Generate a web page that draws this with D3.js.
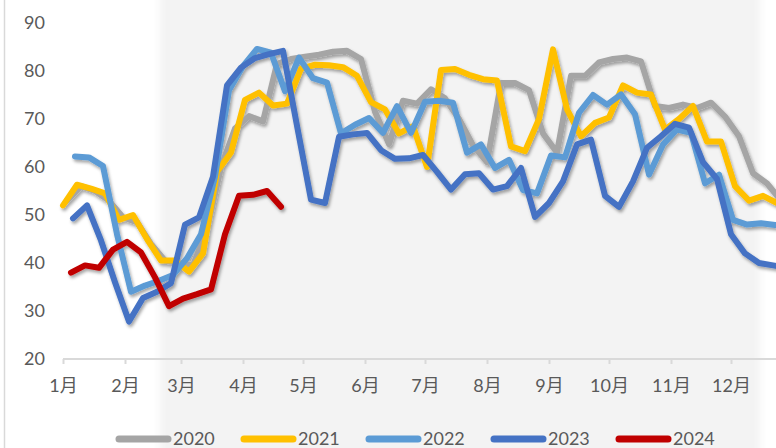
<!DOCTYPE html>
<html>
<head>
<meta charset="utf-8">
<script src="https://cdn.jsdelivr.net/npm/d3@7"></script>
<style>
  html, body { margin: 0; padding: 0; background: #fff; }
  svg { display: block; font-family: Lato, "Noto Sans CJK SC", sans-serif; }
</style>
</head>
<body>
<svg width="776" height="448"></svg>
<script>
// weekly values, one per Friday, Jan -> Dec
var years = ["2020", "2021", "2022", "2023", "2024"];
var firstDay = [3, 1, 7, 6, 5]; // day of January of the first weekly reading

var values2020 = [53, 56, 55, 53, 49.5, 48.5, 44, 40.5, 40, 39.5, 47, 60, 68, 70.6, 69.5, 81.5, 82.5, 83, 83.4, 84,
  84.2, 82.5, 71.5, 64.8, 73.8, 73.2, 76.2, 74.3, 70, 64.5, 61, 77.5, 77.5, 76, 67, 63, 79, 79, 81.8, 82.5,
  82.8, 82, 72.7, 72.3, 73, 72.3, 73.4, 70.5, 66.4, 58.7, 56.6, 53];
var values2021 = [52, 56.3, 55.5, 54.5, 49, 50, 45, 40.5, 40.5, 38.2, 42, 59, 63, 74, 75.5, 72.8, 73.2, 80.5, 81.3, 81.2,
  80.8, 79, 73.5, 72, 67, 68.5, 60, 80.2, 80.4, 79.2, 78.3, 78, 64.3, 63.3, 70, 84.5, 72, 66.4, 69.2, 70.3,
  77, 75.5, 75.1, 67.8, 70, 72.7, 65.3, 65.3, 56, 53, 54, 52.5];
var values2022 = [62.2, 62, 60.2, 46, 34, 35.3, 36.3, 37.5, 41, 46, 58, 76, 81, 84.6, 83.8, 75.8, 82.8, 78.5, 77.6, 67,
  68.8, 70.2, 67.1, 72.7, 67.1, 73.6, 73.8, 73.4, 63, 64.7, 59.8, 61.5, 55.2, 54.5, 62.4, 62, 71.3, 75, 73, 75.1,
  71, 58.4, 64.7, 67.8, 67.1, 56.6, 58.4, 49, 48, 48.3, 47.9, 47.5];
var values2023 = [49.3, 52, 44.7, 36, 27.8, 32.7, 34, 35.8, 48, 49.5, 58, 77, 80.7, 82.7, 83.5, 84.2, 68.6, 53.2, 52.5, 66.3,
  66.8, 67.1, 63.5, 61.7, 61.8, 62.5, 59, 55.3, 58.5, 58.7, 55.3, 56, 59.8, 49.6, 52.5, 57, 64.7, 65.7, 54, 51.7,
  57, 64, 66.4, 69, 68.2, 61, 57.5, 46, 42, 40, 39.5, 39];
var values2024 = [38, 39.5, 39, 42.8, 44.4, 42.2, 37, 31, 32.6, 33.5, 34.5, 46, 54, 54.2, 55, 51.7];

var monthLabels = ["1月", "2月", "3月", "4月", "5月", "6月", "7月", "8月", "9月", "10月", "11月", "12月"];
var yTicks = [20, 30, 40, 50, 60, 70, 80, 90];
var colors = ["#a5a5a5", "#ffc000", "#5b9bd5", "#4472c4", "#c00000"];

var allValues = [values2020, values2021, values2022, values2023, values2024];

var svg = d3.select("svg"),
  width = +svg.attr("width"),
  height = +svg.attr("height");

var x = d3.scaleTime()
  .domain([new Date(2021, 0, 1), new Date(2022, 0, 1)])
  .range([63, 793]);

var y = d3.scaleLinear()
  .domain([20, 90])
  .range([359, 23]);

var defs = svg.append("defs");
defs.append("filter")
  .attr("id", "shadow")
  .attr("x", "-10%").attr("y", "-10%")
  .attr("width", "120%").attr("height", "130%")
  .append("feDropShadow")
  .attr("dx", 1.5)
  .attr("dy", 2.5)
  .attr("stdDeviation", 1.6)
  .attr("flood-color", "#000")
  .attr("flood-opacity", 0.35);

defs.append("filter")
  .attr("id", "soft")
  .append("feGaussianBlur")
  .attr("stdDeviation", 4);

// background: faint watermark panel and frame line
svg.append("rect")
  .attr("x", 160).attr("y", -20)
  .attr("width", 600).attr("height", height + 40)
  .attr("rx", 12)
  .attr("fill", "#f3f3f3")
  .attr("filter", "url(#soft)");

svg.append("line")
  .attr("x1", 4.5).attr("x2", 4.5)
  .attr("y1", 0).attr("y2", height)
  .attr("stroke", "#d9d9d9")
  .attr("stroke-width", 1.5);

// y axis labels
svg.append("g")
  .selectAll("text")
  .data(yTicks)
  .enter().append("text")
  .attr("x", 45)
  .attr("y", function (d) {
    return y(d);
  })
  .attr("dy", "0.35em")
  .attr("text-anchor", "end")
  .attr("font-size", 18)
  .attr("fill", "#595959")
  .text(function (d) {
    return d;
  });

// x axis
var monthStarts = d3.range(12).map(function (m) {
  return new Date(2021, m, 1);
});

var xAxis = svg.append("g")
  .attr("transform", "translate(0," + y(20) + ")")
  .call(d3.axisBottom(x)
    .tickValues(monthStarts)
    .tickSize(5)
    .tickSizeOuter(0)
    .tickFormat(function (d, i) {
      return monthLabels[i];
    }));

xAxis.select(".domain")
  .attr("stroke", "#d9d9d9")
  .attr("stroke-width", 2)
  .attr("d", "M63,0H" + width);
xAxis.selectAll(".tick line")
  .attr("stroke", "#d9d9d9")
  .attr("stroke-width", 2);
xAxis.selectAll(".tick text")
  .attr("y", 20)
  .attr("font-size", 18)
  .attr("font-family", "Lato, 'Noto Sans CJK SC', sans-serif")
  .attr("fill", "#595959");

// lines
var line = d3.line()
  .x(function (d) {
    return x(d.date);
  })
  .y(function (d) {
    return y(d.value);
  });

var series = years.map(function (yr, k) {
  return {
    year: yr,
    color: colors[k],
    points: allValues[k].map(function (v, i) {
      return { date: new Date(2021, 0, firstDay[k] + 7 * i), value: v };
    })
  };
});

svg.append("g")
  .attr("filter", "url(#shadow)")
  .selectAll("path")
  .data(series)
  .enter().append("path")
  .attr("d", function (d) {
    return line(d.points);
  })
  .attr("fill", "none")
  .attr("stroke", function (d) {
    return d.color;
  })
  .attr("stroke-width", 6)
  .attr("stroke-linejoin", "round")
  .attr("stroke-linecap", "round");

// legend
var legend = svg.append("g")
  .selectAll("g")
  .data(series)
  .enter().append("g")
  .attr("transform", function (d, i) {
    return "translate(" + (119 + i * 125) + ",439)";
  });

legend.append("line")
  .attr("x1", 0).attr("x2", 49)
  .attr("stroke", function (d) {
    return d.color;
  })
  .attr("stroke-width", 7)
  .attr("stroke-linecap", "round");

legend.append("text")
  .attr("x", 54)
  .attr("dy", "0.36em")
  .attr("font-size", 18)
  .attr("fill", "#595959")
  .text(function (d) {
    return d.year;
  });
</script>
</body>
</html>
